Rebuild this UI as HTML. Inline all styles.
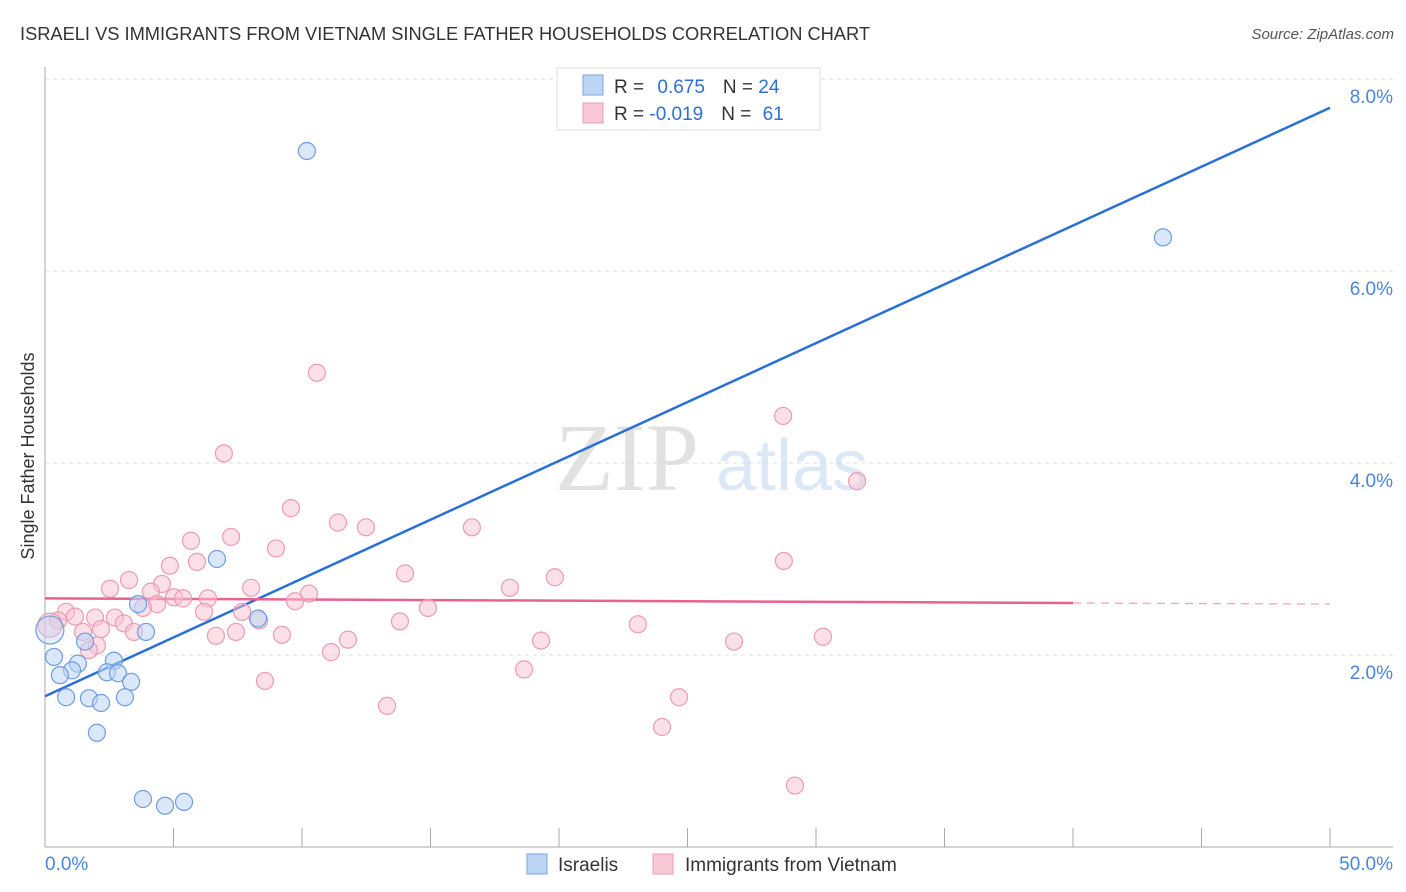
<!DOCTYPE html>
<html><head><meta charset="utf-8"><style>
body{margin:0;background:#fff;font-family:"Liberation Sans",sans-serif}
svg{display:block}
</style></head><body>
<svg id="chart" width="1406" height="892" xmlns="http://www.w3.org/2000/svg">
<text x="20" y="40" font-size="18.3" fill="#333" textLength="850">ISRAELI VS IMMIGRANTS FROM VIETNAM SINGLE FATHER HOUSEHOLDS CORRELATION CHART</text>
<text x="1394" y="39" font-size="15" fill="#555" font-style="italic" text-anchor="end">Source: ZipAtlas.com</text>
<text x="34" y="456" font-size="18" fill="#333" text-anchor="middle" transform="rotate(-90 34 456)">Single Father Households</text>
<g opacity="0.35">
<text x="555" y="490" font-size="96" font-family="Liberation Serif,serif" fill="#aaa">ZIP</text>
<text x="716" y="490" font-size="72" fill="#9cc0e8">atlas</text>
</g>
<g id="grid"></g><g id="axes"></g><g id="lines"></g><g id="pts"></g>
<g>
<rect x="557" y="68" width="263" height="62" fill="#fff" stroke="#ddd"/>
<rect x="583" y="75" width="20" height="20" fill="#bcd5f5" stroke="#7aa6e0"/>
<rect x="583" y="103" width="20" height="20" fill="#f9c8d6" stroke="#ec9bb4"/>
<text x="614" y="93" font-size="19" fill="#333">R = <tspan fill="#2f6fd6" dx="8">0.675</tspan><tspan dx="18" fill="#333">N = </tspan><tspan fill="#2f6fd6">24</tspan></text>
<text x="614" y="120" font-size="19" fill="#333">R = <tspan fill="#2f6fd6">-0.019</tspan><tspan dx="18" fill="#333">N = </tspan><tspan fill="#2f6fd6" dx="6">61</tspan></text>
</g>
<g>
<rect x="527" y="854" width="20" height="20" fill="#bcd5f5" stroke="#7aa6e0"/>
<text x="558" y="871" font-size="19" fill="#333">Israelis</text>
<rect x="653" y="854" width="20" height="20" fill="#f9c8d6" stroke="#ec9bb4"/>
<text x="685" y="871" font-size="19" fill="#333">Immigrants from Vietnam</text>
</g>
</svg>
<script>
const blueX=[10.19,43.50,6.69,3.62,3.93,8.29,1.56,0.35,0.19,1.28,1.05,0.58,2.68,2.41,2.84,3.35,0.82,1.71,2.18,3.11,2.02,3.81,4.67,5.41];
const blueY=[7.25,6.35,3.00,2.53,2.24,2.38,2.14,1.98,2.26,1.91,1.84,1.79,1.94,1.82,1.81,1.72,1.56,1.55,1.50,1.56,1.19,0.50,0.43,0.47];
const pinkX=[10.58,6.96,28.72,31.60,9.57,7.24,5.68,11.40,12.49,16.61,8.99,5.91,4.86,28.75,14.01,19.84,3.27,2.53,4.55,8.02,18.09,4.12,5.02,5.37,6.34,10.27,9.73,4.36,3.81,6.19,7.67,14.90,8.33,2.72,3.07,1.95,0.82,1.17,0.51,0.19,1.48,2.18,3.46,6.65,7.43,9.22,13.81,23.07,11.79,19.30,26.81,30.27,2.02,1.71,11.13,18.64,8.56,24.67,13.31,24.01,29.18];
const pinkY=[4.94,4.10,4.49,3.81,3.53,3.23,3.19,3.38,3.33,3.33,3.11,2.97,2.93,2.98,2.85,2.81,2.78,2.69,2.74,2.70,2.70,2.66,2.60,2.59,2.59,2.64,2.56,2.53,2.49,2.45,2.45,2.49,2.36,2.39,2.33,2.39,2.45,2.40,2.36,2.31,2.24,2.27,2.24,2.20,2.24,2.21,2.35,2.32,2.16,2.15,2.14,2.19,2.10,2.05,2.03,1.85,1.73,1.56,1.47,1.25,0.64];
const blueTrend=[1.57,7.70];
const pinkTrend=[2.59,2.53];
const yTicks=[2,4,6,8];
const yTickLabels=["2.0%","4.0%","6.0%","8.0%"];
const xTicks=[0,5,10,15,20,25,30,35,40,45,50];
const NS="http://www.w3.org/2000/svg";
const sx=v=>45+v*25.7, sy=v=>847-v*96;
function mk(t,a,p){const e=document.createElementNS(NS,t);for(const k in a)e.setAttribute(k,a[k]);document.getElementById(p).appendChild(e);return e;}
yTicks.forEach((v,i)=>{
 const l=mk('line',{x1:45,x2:1393,y1:sy(v),y2:sy(v),stroke:'#ddd','stroke-dasharray':'4 4'},'grid');
 
 
 const t=mk('text',{x:1393,y:sy(v)+24,'font-size':19,fill:'#4a86d8','text-anchor':'end'},'grid');
 t.textContent=yTickLabels[i];
 
 
});
const ax=mk('line',{x1:45,x2:45,y1:67,y2:847,stroke:'#aaa'},'axes');


const bx=mk('line',{x1:45,x2:1393,y1:847,y2:847,stroke:'#aaa'},'axes');


xTicks.forEach(v=>{
 const l=mk('line',{x1:sx(v),x2:sx(v),y1:828,y2:847,stroke:'#aaa'},'axes');
 
 
});
[[0,'0.0%','start',45],[50,'50.0%','end',1393]].forEach(d=>{
 const t=mk('text',{x:d[3],y:870,'font-size':19,fill:'#4a86d8','text-anchor':d[2]},'axes');
 t.textContent=d[1];
 
 
});
pinkX.forEach((x,i)=>{
 const c=mk('circle',{cx:sx(x),cy:sy(pinkY[i]),r:(i==39?12:8.5),fill:'#f9c2d2','fill-opacity':0.5,stroke:'#ec9bb4','stroke-width':1.2},'pts');
 
 
});
blueX.forEach((x,i)=>{
 const c=mk('circle',{cx:sx(x),cy:sy(blueY[i]),r:(i==8?14:8.5),fill:'#bcd5f5','fill-opacity':(i==8?0.4:0.55),stroke:'#6d9de0','stroke-width':1.2},'pts');
 
 
});
const bl=mk('line',{x1:sx(0),y1:sy(blueTrend[0]),x2:sx(50),y2:sy(blueTrend[1]),stroke:'#2a6fd6','stroke-width':2.5},'lines');


const pAt=x=>pinkTrend[0]+(pinkTrend[1]-pinkTrend[0])*x/50;
const pl=mk('line',{x1:sx(0),y1:sy(pAt(0)),x2:sx(40),y2:sy(pAt(40)),stroke:'#e8628e','stroke-width':2.5},'lines');


const pd=mk('line',{x1:sx(40),y1:sy(pAt(40)),x2:sx(50),y2:sy(pAt(50)),stroke:'#e8628e','stroke-width':1.2,'stroke-dasharray':'8 6','opacity':0.6},'lines');


</script>
</body></html>
